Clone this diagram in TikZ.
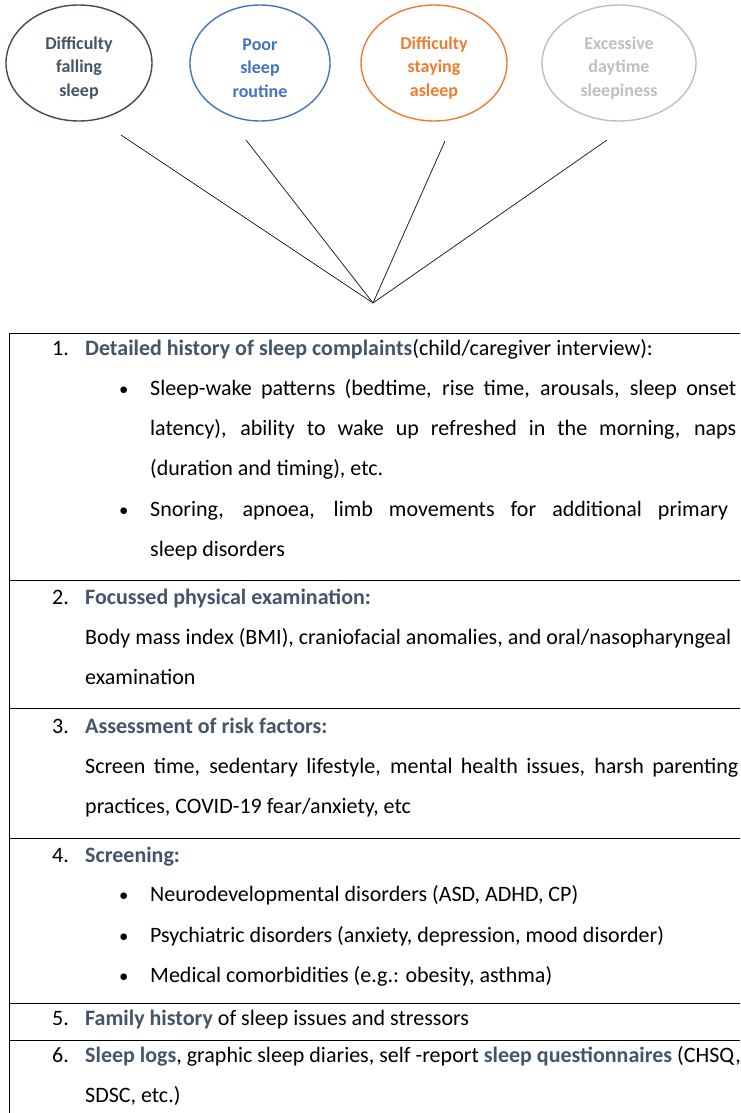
\documentclass[tikz,border=0pt]{standalone}
\usepackage{fontspec}
\setmainfont{Carlito}
\usetikzlibrary{shapes.geometric}

\definecolor{slate}{HTML}{44546A}
\definecolor{ringdark}{HTML}{3E4A5E}
\definecolor{ringblue}{HTML}{4472C4}
\definecolor{ringorange}{HTML}{ED7D31}
\definecolor{ringgrey}{HTML}{BFBFBF}
\definecolor{linkgrey}{HTML}{262626}

\newcommand{\hd}[1]{\textcolor{slate}{\bfseries #1}}
\newcommand{\bodyfont}{\fontsize{22}{26}\selectfont}
\newcommand{\blt}{\scalebox{0.85}{•}}

\tikzset{
  ring/.style={ellipse, minimum width=146pt, minimum height=116pt, inner sep=0pt,
    line width=1.4pt},
  ringtext/.style={inner sep=0pt, align=center, yshift=-5pt,
    font=\fontsize{18}{23.5}\selectfont\bfseries},
  link/.style={draw=linkgrey, line width=0.8pt},
  rule/.style={draw=black, line width=0.8pt},
  txt/.style={anchor=base west, inner sep=0pt, font=\bodyfont},
}

\begin{document}
\begin{tikzpicture}[x=1pt, y=-1pt]
\useasboundingbox (0,0) rectangle (740,1113);

% complaint bubbles
\node[ring, draw=ringdark] (e1) at (79,63) {};
\node[ring, draw=ringblue, minimum width=140pt] (e2) at (260,63) {};
\node[ring, draw=ringorange] (e3) at (434,63) {};
\node[ring, draw=ringgrey, minimum width=154pt] (e4) at (619,63) {};
\node[ringtext, text=slate]      (e1t) at (e1.center) {Difficulty\\falling\\sleep};
\node[ringtext, text=ringblue]   (e2t) at (e2.center) {Poor\\sleep\\routine};
\node[ringtext, text=ringorange] (e3t) at (e3.center) {Difficulty\\staying\\asleep};
\node[ringtext, text=ringgrey]   (e4t) at (e4.center) {Excessive\\daytime\\sleepiness};

% connectors meeting at one point above the table
\coordinate (hub) at (373,303);
\coordinate (t1) at (121,135);
\coordinate (t2) at (246,140);
\coordinate (t3) at (445,141);
\coordinate (t4) at (607,140);
\draw[link] (t1) -- (hub);
\draw[link] (t2) -- (hub);
\draw[link] (t3) -- (hub);
\draw[link] (t4) -- (hub);

% table rules
\draw[rule] (740,333) -- (9,333) -- (9,1113);
\foreach \yy in {580,708,838,1003,1040} \draw[rule] (9,\yy) -- (740,\yy);

% row 1
\node[txt] (n1) at (52,355) {1.};
\node[txt] (h1) at (85,355) {\hd{Detailed history of sleep complaints}(child/caregiver interview):};
\node[txt] (b1) at (119,395) {\blt};
\node[txt] (r1a) at (150,395) {\makebox[586pt][s]{Sleep-wake patterns (bedtime, rise time, arousals, sleep onset}};
\node[txt] (r1b) at (150,435) {\makebox[586pt][s]{latency), ability to wake up refreshed in the morning, naps}};
\node[txt] (r1c) at (150,475) {(duration and timing), etc.};
\node[txt] (b2) at (119,516) {\blt};
\node[txt] (r1d) at (150,516) {\makebox[578pt][s]{Snoring, apnoea, limb movements for additional primary}};
\node[txt] (r1e) at (150,556) {sleep disorders};

% row 2
\node[txt] (n2) at (52,604) {2.};
\node[txt] (h2) at (85,604) {\hd{Focussed physical examination:}};
\node[txt] (r2a) at (85,644) {Body mass index (BMI), craniofacial anomalies, and oral/nasopharyngeal};
\node[txt] (r2b) at (85,684) {examination};

% row 3
\node[txt] (n3) at (52,733) {3.};
\node[txt] (h3) at (85,733) {\hd{Assessment of risk factors:}};
\node[txt] (r3a) at (85,773) {\makebox[653pt][s]{Screen time, sedentary lifestyle, mental health issues, harsh parenting}};
\node[txt] (r3b) at (85,813) {practices, COVID-19 fear/anxiety, etc};

% row 4
\node[txt] (n4) at (52,862) {4.};
\node[txt] (h4) at (85,862) {\hd{Screening:}};
\node[txt] (b3) at (119,901) {\blt};
\node[txt] (r4a) at (150,901) {Neurodevelopmental disorders (ASD, ADHD, CP)};
\node[txt] (b4) at (119,942) {\blt};
\node[txt] (r4b) at (150,942) {Psychiatric disorders (anxiety, depression, mood disorder)};
\node[txt] (b5) at (119,982) {\blt};
\node[txt] (r4c) at (150,982) {Medical comorbidities (e.g.: obesity, asthma)};

% row 5
\node[txt] (n5) at (52,1025) {5.};
\node[txt] (r5a) at (85,1025) {\hd{Family history} of sleep issues and stressors};

% row 6
\node[txt] (n6) at (52,1062) {6.};
\node[txt] (r6a) at (85,1062) {\hd{Sleep logs}, graphic sleep diaries, self -report \hd{sleep questionnaires} (CHSQ,};
\node[txt] (r6b) at (85,1102) {SDSC, etc.)};
\end{tikzpicture}
\end{document}
